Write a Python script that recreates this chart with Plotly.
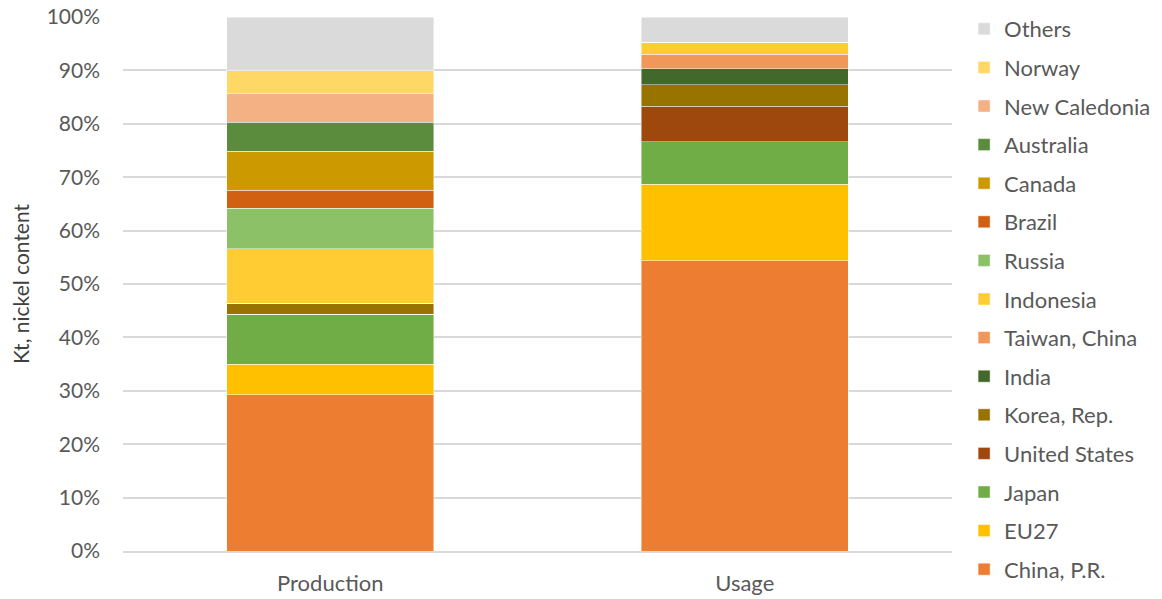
import plotly.graph_objects as go

categories = ["Production", "Usage"]
series_names = ["China, P.R.", "EU27", "Japan", "United States", "Korea, Rep.", "India",
                "Taiwan, China", "Indonesia", "Russia", "Brazil", "Canada", "Australia",
                "New Caledonia", "Norway", "Others"]
production = [29.3, 5.7, 9.3, 0.0, 2.1, 0.0, 0.0, 10.2, 7.6, 3.4, 7.3, 5.4, 5.3, 4.3, 10.1]
usage = [54.4, 14.3, 7.9, 6.7, 4.0, 3.0, 2.7, 2.3, 0.0, 0.0, 0.0, 0.0, 0.0, 0.0, 4.7]
colors = ["#ED7D31", "#FFC000", "#70AD47", "#9E480E", "#997300", "#43682B",
          "#F1975A", "#FFCD33", "#8CC168", "#D26012", "#CC9A00", "#5B8B3C",
          "#F4B183", "#FFD766", "#DADADA"]
tick_vals = [0, 10, 20, 30, 40, 50, 60, 70, 80, 90, 100]
tick_text = [f"{v}%" for v in tick_vals]

fig = go.Figure()
for i, name in enumerate(series_names):
    fig.add_trace(go.Bar(
        x=categories, y=[production[i], usage[i]], name=name,
        marker=dict(color=colors[i], line=dict(color="rgba(255,255,255,0.6)", width=0.75)),
        legendgroup=name, legendrank=1000 - i,
    ))

W, H = 1154, 591
top_px, bottom_px = 9, 543  # plot area top/bottom inside the figure
font_family = "Lato, 'Open Sans', sans-serif"
fig.update_layout(
    barmode="stack",
    bargap=0.5,
    width=W, height=H,
    margin=dict(l=115, r=210, t=0, b=0, autoexpand=False),
    paper_bgcolor="white", plot_bgcolor="white",
    font=dict(family=font_family, color="#595959"),
    legend=dict(
        traceorder="grouped", tracegroupgap=7,
        x=1.0146, xanchor="left", y=1.0, yanchor="top",
        font=dict(size=22, color="#595959"),
        itemwidth=30,
    ),
    yaxis=dict(
        domain=[(H - bottom_px) / H, (H - top_px) / H],
        range=[0, 100], tickvals=tick_vals, ticktext=tick_text,
        showgrid=True, gridcolor="#D9D9D9", gridwidth=1.5,
        zeroline=False, showline=False,
        tickfont=dict(size=21, color="#595959"),
        title=dict(text="Kt, nickel content", font=dict(size=21, color="#404040"), standoff=18),
        ticklabelstandoff=22, ticklabeloverflow="allow",
    ),
    xaxis=dict(
        showline=True, linecolor="#D9D9D9", linewidth=1.5,
        tickfont=dict(size=22, color="#595959"),
        ticks="", ticklabelstandoff=12,
    ),
)
fig.write_html("out.html")
